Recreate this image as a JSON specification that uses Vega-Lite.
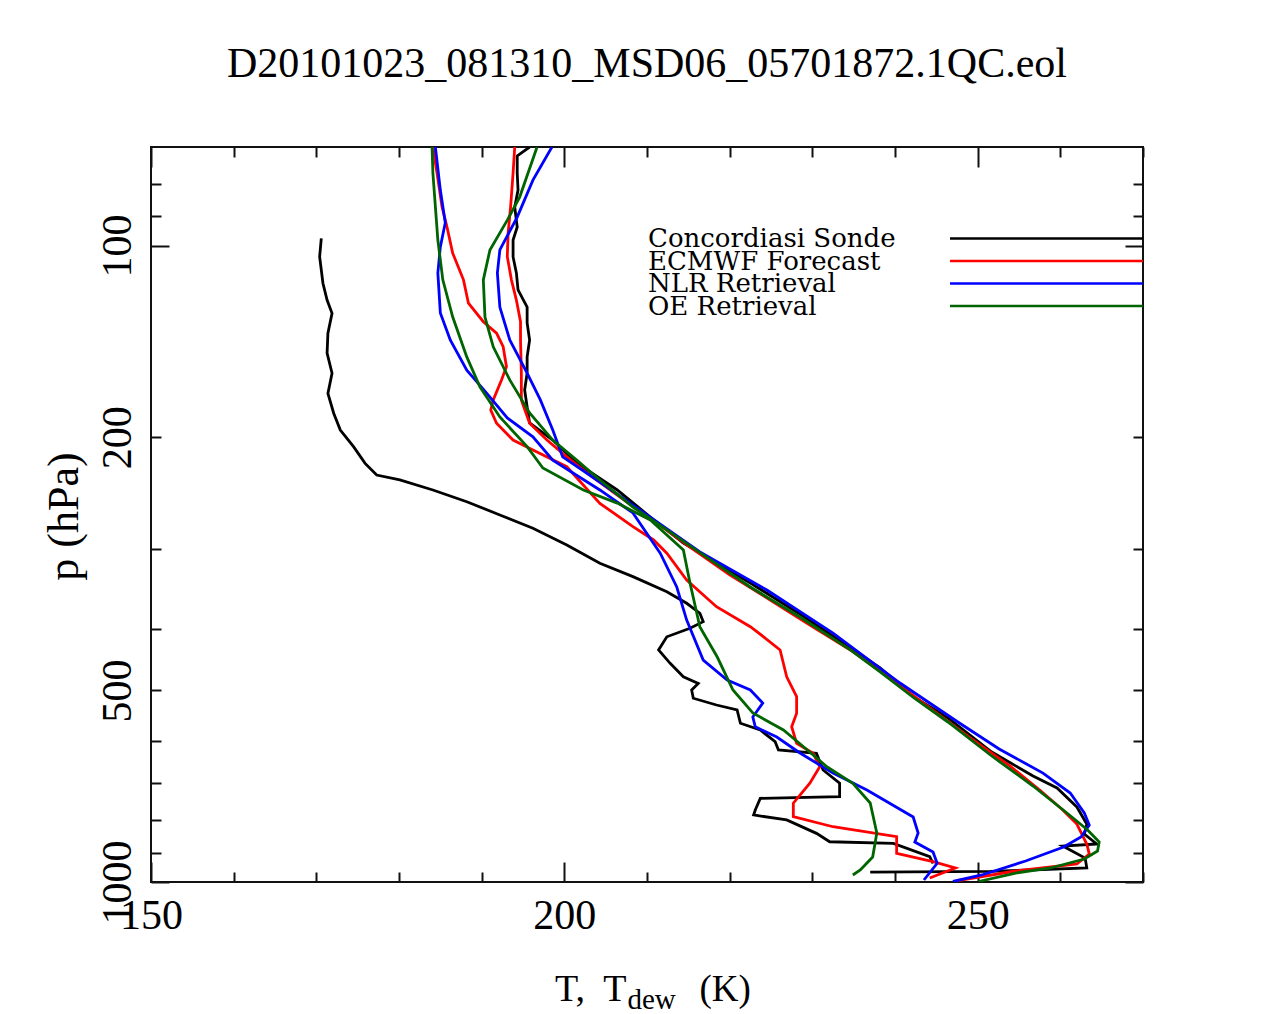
{
  "$schema": "https://vega.github.io/schema/vega-lite/v6.json",
  "width": 992,
  "height": 735,
  "autosize": {"type": "none"},
  "padding": {"left": 151, "top": 147, "right": 131, "bottom": 132},
  "background": "white",
  "title": {"text": "D20101023_081310_MSD06_05701872.1QC.eol", "font": "Liberation Serif", "fontSize": 42, "fontWeight": "normal", "color": "black", "anchor": "middle", "frame": "group", "baseline": "alphabetic", "offset": 27},
  "config": {
    "view": {"stroke": "#111111", "strokeWidth": 2},
    "axis": {"domain": false, "grid": false, "tickColor": "#111111", "tickWidth": 2, "labelFont": "Liberation Serif", "labelFontSize": 42, "labelColor": "black", "titleFont": "Liberation Serif", "titleFontWeight": "normal", "titleColor": "black"}
  },
  "datasets": {
    "profiles": [
      {"src":"Concordiasi Sonde","var":"T","temp":195.8,"p":70.0},
      {"src":"Concordiasi Sonde","var":"T","temp":194.3,"p":72.3},
      {"src":"Concordiasi Sonde","var":"T","temp":194.3,"p":76.9},
      {"src":"Concordiasi Sonde","var":"T","temp":194.4,"p":81.8},
      {"src":"Concordiasi Sonde","var":"T","temp":194.0,"p":87.0},
      {"src":"Concordiasi Sonde","var":"T","temp":194.3,"p":93.5},
      {"src":"Concordiasi Sonde","var":"T","temp":193.8,"p":98.0},
      {"src":"Concordiasi Sonde","var":"T","temp":193.8,"p":104.2},
      {"src":"Concordiasi Sonde","var":"T","temp":194.2,"p":110.4},
      {"src":"Concordiasi Sonde","var":"T","temp":194.4,"p":117.4},
      {"src":"Concordiasi Sonde","var":"T","temp":195.5,"p":124.9},
      {"src":"Concordiasi Sonde","var":"T","temp":195.5,"p":132.3},
      {"src":"Concordiasi Sonde","var":"T","temp":195.8,"p":140.7},
      {"src":"Concordiasi Sonde","var":"T","temp":195.5,"p":149.6},
      {"src":"Concordiasi Sonde","var":"T","temp":195.5,"p":158.6},
      {"src":"Concordiasi Sonde","var":"T","temp":195.2,"p":168.6},
      {"src":"Concordiasi Sonde","var":"T","temp":195.5,"p":179.3},
      {"src":"Concordiasi Sonde","var":"T","temp":195.8,"p":190.0},
      {"src":"Concordiasi Sonde","var":"T","temp":198.6,"p":202.1},
      {"src":"Concordiasi Sonde","var":"T","temp":201.5,"p":219.6},
      {"src":"Concordiasi Sonde","var":"T","temp":206.4,"p":242.1},
      {"src":"Concordiasi Sonde","var":"T","temp":210.4,"p":267.0},
      {"src":"Concordiasi Sonde","var":"T","temp":214.4,"p":293.3},
      {"src":"Concordiasi Sonde","var":"T","temp":218.5,"p":315.3},
      {"src":"Concordiasi Sonde","var":"T","temp":222.5,"p":338.9},
      {"src":"Concordiasi Sonde","var":"T","temp":228.5,"p":379.2},
      {"src":"Concordiasi Sonde","var":"T","temp":232.5,"p":410.7},
      {"src":"Concordiasi Sonde","var":"T","temp":238.2,"p":461.0},
      {"src":"Concordiasi Sonde","var":"T","temp":242.3,"p":512.0},
      {"src":"Concordiasi Sonde","var":"T","temp":246.4,"p":552.5},
      {"src":"Concordiasi Sonde","var":"T","temp":251.7,"p":624.8},
      {"src":"Concordiasi Sonde","var":"T","temp":256.7,"p":681.4},
      {"src":"Concordiasi Sonde","var":"T","temp":259.6,"p":711.7},
      {"src":"Concordiasi Sonde","var":"T","temp":262.0,"p":762.3},
      {"src":"Concordiasi Sonde","var":"T","temp":263.2,"p":810.9},
      {"src":"Concordiasi Sonde","var":"T","temp":262.9,"p":840.7},
      {"src":"Concordiasi Sonde","var":"T","temp":264.4,"p":871.6},
      {"src":"Concordiasi Sonde","var":"T","temp":260.3,"p":877.9},
      {"src":"Concordiasi Sonde","var":"T","temp":263.0,"p":917.0},
      {"src":"Concordiasi Sonde","var":"T","temp":263.2,"p":950.6},
      {"src":"Concordiasi Sonde","var":"T","temp":251.5,"p":962.5},
      {"src":"Concordiasi Sonde","var":"T","temp":237.0,"p":965.0},
      {"src":"Concordiasi Sonde","var":"Td","temp":170.6,"p":97.4},
      {"src":"Concordiasi Sonde","var":"Td","temp":170.4,"p":104.1},
      {"src":"Concordiasi Sonde","var":"Td","temp":170.8,"p":114.6},
      {"src":"Concordiasi Sonde","var":"Td","temp":171.3,"p":121.8},
      {"src":"Concordiasi Sonde","var":"Td","temp":171.9,"p":127.8},
      {"src":"Concordiasi Sonde","var":"Td","temp":171.4,"p":137.3},
      {"src":"Concordiasi Sonde","var":"Td","temp":171.3,"p":147.6},
      {"src":"Concordiasi Sonde","var":"Td","temp":171.9,"p":158.7},
      {"src":"Concordiasi Sonde","var":"Td","temp":171.4,"p":170.7},
      {"src":"Concordiasi Sonde","var":"Td","temp":172.1,"p":183.4},
      {"src":"Concordiasi Sonde","var":"Td","temp":172.9,"p":194.9},
      {"src":"Concordiasi Sonde","var":"Td","temp":174.5,"p":207.0},
      {"src":"Concordiasi Sonde","var":"Td","temp":175.9,"p":219.9},
      {"src":"Concordiasi Sonde","var":"Td","temp":177.3,"p":229.4},
      {"src":"Concordiasi Sonde","var":"Td","temp":180.1,"p":233.5},
      {"src":"Concordiasi Sonde","var":"Td","temp":184.1,"p":242.1},
      {"src":"Concordiasi Sonde","var":"Td","temp":188.2,"p":252.6},
      {"src":"Concordiasi Sonde","var":"Td","temp":192.2,"p":265.0},
      {"src":"Concordiasi Sonde","var":"Td","temp":196.2,"p":278.1},
      {"src":"Concordiasi Sonde","var":"Td","temp":200.3,"p":295.4},
      {"src":"Concordiasi Sonde","var":"Td","temp":204.3,"p":315.7},
      {"src":"Concordiasi Sonde","var":"Td","temp":208.3,"p":331.3},
      {"src":"Concordiasi Sonde","var":"Td","temp":212.4,"p":349.8},
      {"src":"Concordiasi Sonde","var":"Td","temp":214.8,"p":364.8},
      {"src":"Concordiasi Sonde","var":"Td","temp":216.4,"p":378.2},
      {"src":"Concordiasi Sonde","var":"Td","temp":216.8,"p":389.9},
      {"src":"Concordiasi Sonde","var":"Td","temp":215.2,"p":399.4},
      {"src":"Concordiasi Sonde","var":"Td","temp":212.4,"p":411.8},
      {"src":"Concordiasi Sonde","var":"Td","temp":211.4,"p":431.9},
      {"src":"Concordiasi Sonde","var":"Td","temp":212.8,"p":453.3},
      {"src":"Concordiasi Sonde","var":"Td","temp":214.4,"p":475.9},
      {"src":"Concordiasi Sonde","var":"Td","temp":216.2,"p":487.4},
      {"src":"Concordiasi Sonde","var":"Td","temp":215.4,"p":499.3},
      {"src":"Concordiasi Sonde","var":"Td","temp":215.6,"p":514.4},
      {"src":"Concordiasi Sonde","var":"Td","temp":218.4,"p":527.1},
      {"src":"Concordiasi Sonde","var":"Td","temp":220.9,"p":536.6},
      {"src":"Concordiasi Sonde","var":"Td","temp":221.3,"p":563.1},
      {"src":"Concordiasi Sonde","var":"Td","temp":223.7,"p":577.0},
      {"src":"Concordiasi Sonde","var":"Td","temp":225.5,"p":601.9},
      {"src":"Concordiasi Sonde","var":"Td","temp":225.9,"p":620.3},
      {"src":"Concordiasi Sonde","var":"Td","temp":230.5,"p":627.8},
      {"src":"Concordiasi Sonde","var":"Td","temp":231.3,"p":666.8},
      {"src":"Concordiasi Sonde","var":"Td","temp":233.3,"p":699.6},
      {"src":"Concordiasi Sonde","var":"Td","temp":233.3,"p":734.5},
      {"src":"Concordiasi Sonde","var":"Td","temp":223.7,"p":738.8},
      {"src":"Concordiasi Sonde","var":"Td","temp":223.1,"p":770.7},
      {"src":"Concordiasi Sonde","var":"Td","temp":222.9,"p":784.7},
      {"src":"Concordiasi Sonde","var":"Td","temp":226.9,"p":799.0},
      {"src":"Concordiasi Sonde","var":"Td","temp":230.5,"p":838.6},
      {"src":"Concordiasi Sonde","var":"Td","temp":232.1,"p":864.5},
      {"src":"Concordiasi Sonde","var":"Td","temp":239.8,"p":869.5},
      {"src":"Concordiasi Sonde","var":"Td","temp":244.2,"p":912.6},
      {"src":"Concordiasi Sonde","var":"Td","temp":244.6,"p":934.5},
      {"src":"ECMWF Forecast","var":"T","temp":194.0,"p":70.0},
      {"src":"ECMWF Forecast","var":"T","temp":193.8,"p":76.9},
      {"src":"ECMWF Forecast","var":"T","temp":193.5,"p":86.9},
      {"src":"ECMWF Forecast","var":"T","temp":193.2,"p":95.6},
      {"src":"ECMWF Forecast","var":"T","temp":193.1,"p":104.1},
      {"src":"ECMWF Forecast","var":"T","temp":193.6,"p":113.2},
      {"src":"ECMWF Forecast","var":"T","temp":194.2,"p":121.8},
      {"src":"ECMWF Forecast","var":"T","temp":194.7,"p":131.7},
      {"src":"ECMWF Forecast","var":"T","temp":194.7,"p":140.7},
      {"src":"ECMWF Forecast","var":"T","temp":194.8,"p":158.5},
      {"src":"ECMWF Forecast","var":"T","temp":194.8,"p":174.8},
      {"src":"ECMWF Forecast","var":"T","temp":195.8,"p":190.2},
      {"src":"ECMWF Forecast","var":"T","temp":197.9,"p":202.1},
      {"src":"ECMWF Forecast","var":"T","temp":200.3,"p":214.8},
      {"src":"ECMWF Forecast","var":"T","temp":203.1,"p":229.4},
      {"src":"ECMWF Forecast","var":"T","temp":206.7,"p":248.3},
      {"src":"ECMWF Forecast","var":"T","temp":211.0,"p":271.8},
      {"src":"ECMWF Forecast","var":"T","temp":215.2,"p":297.6},
      {"src":"ECMWF Forecast","var":"T","temp":220.0,"p":329.2},
      {"src":"ECMWF Forecast","var":"T","temp":224.9,"p":360.5},
      {"src":"ECMWF Forecast","var":"T","temp":229.7,"p":394.7},
      {"src":"ECMWF Forecast","var":"T","temp":234.6,"p":431.9},
      {"src":"ECMWF Forecast","var":"T","temp":239.4,"p":478.1},
      {"src":"ECMWF Forecast","var":"T","temp":244.2,"p":532.8},
      {"src":"ECMWF Forecast","var":"T","temp":249.1,"p":593.9},
      {"src":"ECMWF Forecast","var":"T","temp":253.9,"p":657.2},
      {"src":"ECMWF Forecast","var":"T","temp":257.5,"p":716.9},
      {"src":"ECMWF Forecast","var":"T","temp":260.3,"p":770.7},
      {"src":"ECMWF Forecast","var":"T","temp":262.0,"p":810.9},
      {"src":"ECMWF Forecast","var":"T","temp":263.2,"p":871.6},
      {"src":"ECMWF Forecast","var":"T","temp":263.5,"p":903.8},
      {"src":"ECMWF Forecast","var":"T","temp":262.0,"p":937.0},
      {"src":"ECMWF Forecast","var":"T","temp":254.6,"p":961.0},
      {"src":"ECMWF Forecast","var":"T","temp":247.5,"p":995.5},
      {"src":"ECMWF Forecast","var":"Td","temp":184.1,"p":70.0},
      {"src":"ECMWF Forecast","var":"Td","temp":184.6,"p":76.9},
      {"src":"ECMWF Forecast","var":"Td","temp":185.2,"p":86.9},
      {"src":"ECMWF Forecast","var":"Td","temp":185.8,"p":93.4},
      {"src":"ECMWF Forecast","var":"Td","temp":186.5,"p":102.8},
      {"src":"ECMWF Forecast","var":"Td","temp":187.8,"p":113.2},
      {"src":"ECMWF Forecast","var":"Td","temp":188.4,"p":123.2},
      {"src":"ECMWF Forecast","var":"Td","temp":190.2,"p":131.7},
      {"src":"ECMWF Forecast","var":"Td","temp":191.8,"p":137.3},
      {"src":"ECMWF Forecast","var":"Td","temp":192.6,"p":144.2},
      {"src":"ECMWF Forecast","var":"Td","temp":193.0,"p":155.0},
      {"src":"ECMWF Forecast","var":"Td","temp":192.4,"p":162.6},
      {"src":"ECMWF Forecast","var":"Td","temp":191.4,"p":174.8},
      {"src":"ECMWF Forecast","var":"Td","temp":191.1,"p":181.3},
      {"src":"ECMWF Forecast","var":"Td","temp":191.8,"p":190.2},
      {"src":"ECMWF Forecast","var":"Td","temp":193.8,"p":202.1},
      {"src":"ECMWF Forecast","var":"Td","temp":196.2,"p":209.5},
      {"src":"ECMWF Forecast","var":"Td","temp":200.3,"p":222.6},
      {"src":"ECMWF Forecast","var":"Td","temp":204.3,"p":254.1},
      {"src":"ECMWF Forecast","var":"Td","temp":208.3,"p":276.5},
      {"src":"ECMWF Forecast","var":"Td","temp":210.8,"p":290.1},
      {"src":"ECMWF Forecast","var":"Td","temp":212.4,"p":304.3},
      {"src":"ECMWF Forecast","var":"Td","temp":214.8,"p":335.3},
      {"src":"ECMWF Forecast","var":"Td","temp":218.4,"p":369.3},
      {"src":"ECMWF Forecast","var":"Td","temp":222.5,"p":397.1},
      {"src":"ECMWF Forecast","var":"Td","temp":224.1,"p":411.8},
      {"src":"ECMWF Forecast","var":"Td","temp":226.1,"p":431.9},
      {"src":"ECMWF Forecast","var":"Td","temp":226.9,"p":475.9},
      {"src":"ECMWF Forecast","var":"Td","temp":228.1,"p":511.4},
      {"src":"ECMWF Forecast","var":"Td","temp":228.1,"p":543.1},
      {"src":"ECMWF Forecast","var":"Td","temp":227.5,"p":570.2},
      {"src":"ECMWF Forecast","var":"Td","temp":228.1,"p":605.5},
      {"src":"ECMWF Forecast","var":"Td","temp":230.1,"p":627.8},
      {"src":"ECMWF Forecast","var":"Td","temp":230.9,"p":658.9},
      {"src":"ECMWF Forecast","var":"Td","temp":229.7,"p":699.6},
      {"src":"ECMWF Forecast","var":"Td","temp":227.7,"p":752.0},
      {"src":"ECMWF Forecast","var":"Td","temp":227.7,"p":789.6},
      {"src":"ECMWF Forecast","var":"Td","temp":232.5,"p":818.8},
      {"src":"ECMWF Forecast","var":"Td","temp":240.2,"p":848.8},
      {"src":"ECMWF Forecast","var":"Td","temp":240.2,"p":901.5},
      {"src":"ECMWF Forecast","var":"Td","temp":244.6,"p":929.1},
      {"src":"ECMWF Forecast","var":"Td","temp":247.3,"p":950.6},
      {"src":"ECMWF Forecast","var":"Td","temp":244.2,"p":985.6},
      {"src":"NLR Retrieval","var":"T","temp":198.5,"p":70.0},
      {"src":"NLR Retrieval","var":"T","temp":196.2,"p":78.9},
      {"src":"NLR Retrieval","var":"T","temp":194.3,"p":90.2},
      {"src":"NLR Retrieval","var":"T","temp":192.2,"p":101.6},
      {"src":"NLR Retrieval","var":"T","temp":191.9,"p":110.4},
      {"src":"NLR Retrieval","var":"T","temp":192.2,"p":124.9},
      {"src":"NLR Retrieval","var":"T","temp":193.4,"p":140.7},
      {"src":"NLR Retrieval","var":"T","temp":195.5,"p":158.6},
      {"src":"NLR Retrieval","var":"T","temp":197.1,"p":174.8},
      {"src":"NLR Retrieval","var":"T","temp":198.6,"p":194.9},
      {"src":"NLR Retrieval","var":"T","temp":199.8,"p":214.8},
      {"src":"NLR Retrieval","var":"T","temp":204.3,"p":235.2},
      {"src":"NLR Retrieval","var":"T","temp":208.3,"p":255.7},
      {"src":"NLR Retrieval","var":"T","temp":216.4,"p":303.0},
      {"src":"NLR Retrieval","var":"T","temp":224.5,"p":347.7},
      {"src":"NLR Retrieval","var":"T","temp":232.5,"p":406.3},
      {"src":"NLR Retrieval","var":"T","temp":240.6,"p":486.8},
      {"src":"NLR Retrieval","var":"T","temp":247.6,"p":560.5},
      {"src":"NLR Retrieval","var":"T","temp":252.6,"p":618.0},
      {"src":"NLR Retrieval","var":"T","temp":257.9,"p":674.3},
      {"src":"NLR Retrieval","var":"T","temp":261.2,"p":724.7},
      {"src":"NLR Retrieval","var":"T","temp":262.9,"p":779.1},
      {"src":"NLR Retrieval","var":"T","temp":263.5,"p":813.7},
      {"src":"NLR Retrieval","var":"T","temp":262.5,"p":849.7},
      {"src":"NLR Retrieval","var":"T","temp":260.4,"p":881.0},
      {"src":"NLR Retrieval","var":"T","temp":255.8,"p":926.8},
      {"src":"NLR Retrieval","var":"T","temp":250.5,"p":974.9},
      {"src":"NLR Retrieval","var":"T","temp":247.0,"p":998.0},
      {"src":"NLR Retrieval","var":"Td","temp":184.4,"p":70.0},
      {"src":"NLR Retrieval","var":"Td","temp":185.0,"p":81.8},
      {"src":"NLR Retrieval","var":"Td","temp":185.6,"p":92.1},
      {"src":"NLR Retrieval","var":"Td","temp":185.0,"p":100.5},
      {"src":"NLR Retrieval","var":"Td","temp":184.7,"p":110.4},
      {"src":"NLR Retrieval","var":"Td","temp":185.0,"p":127.6},
      {"src":"NLR Retrieval","var":"Td","temp":186.2,"p":140.7},
      {"src":"NLR Retrieval","var":"Td","temp":188.2,"p":156.9},
      {"src":"NLR Retrieval","var":"Td","temp":190.6,"p":170.5},
      {"src":"NLR Retrieval","var":"Td","temp":193.1,"p":186.6},
      {"src":"NLR Retrieval","var":"Td","temp":196.2,"p":199.8},
      {"src":"NLR Retrieval","var":"Td","temp":198.6,"p":217.3},
      {"src":"NLR Retrieval","var":"Td","temp":204.3,"p":242.1},
      {"src":"NLR Retrieval","var":"Td","temp":208.3,"p":263.1},
      {"src":"NLR Retrieval","var":"Td","temp":211.6,"p":304.3},
      {"src":"NLR Retrieval","var":"Td","temp":213.6,"p":343.9},
      {"src":"NLR Retrieval","var":"Td","temp":214.8,"p":387.6},
      {"src":"NLR Retrieval","var":"Td","temp":216.8,"p":448.0},
      {"src":"NLR Retrieval","var":"Td","temp":219.7,"p":481.6},
      {"src":"NLR Retrieval","var":"Td","temp":222.5,"p":499.3},
      {"src":"NLR Retrieval","var":"Td","temp":224.0,"p":523.3},
      {"src":"NLR Retrieval","var":"Td","temp":222.8,"p":550.5},
      {"src":"NLR Retrieval","var":"Td","temp":223.1,"p":570.4},
      {"src":"NLR Retrieval","var":"Td","temp":225.7,"p":591.8},
      {"src":"NLR Retrieval","var":"Td","temp":228.5,"p":627.0},
      {"src":"NLR Retrieval","var":"Td","temp":232.5,"p":674.3},
      {"src":"NLR Retrieval","var":"Td","temp":236.6,"p":716.9},
      {"src":"NLR Retrieval","var":"Td","temp":242.2,"p":790.5},
      {"src":"NLR Retrieval","var":"Td","temp":242.8,"p":837.6},
      {"src":"NLR Retrieval","var":"Td","temp":242.4,"p":865.4},
      {"src":"NLR Retrieval","var":"Td","temp":244.6,"p":897.3},
      {"src":"NLR Retrieval","var":"Td","temp":245.1,"p":934.5},
      {"src":"NLR Retrieval","var":"Td","temp":243.5,"p":992.8},
      {"src":"OE Retrieval","var":"T","temp":196.7,"p":70.0},
      {"src":"OE Retrieval","var":"T","temp":194.6,"p":83.9},
      {"src":"OE Retrieval","var":"T","temp":193.1,"p":91.2},
      {"src":"OE Retrieval","var":"T","temp":191.0,"p":101.6},
      {"src":"OE Retrieval","var":"T","temp":190.2,"p":113.2},
      {"src":"OE Retrieval","var":"T","temp":190.4,"p":129.5},
      {"src":"OE Retrieval","var":"T","temp":191.4,"p":144.2},
      {"src":"OE Retrieval","var":"T","temp":193.4,"p":162.6},
      {"src":"OE Retrieval","var":"T","temp":195.8,"p":183.2},
      {"src":"OE Retrieval","var":"T","temp":198.6,"p":202.1},
      {"src":"OE Retrieval","var":"T","temp":201.5,"p":217.3},
      {"src":"OE Retrieval","var":"T","temp":204.3,"p":233.5},
      {"src":"OE Retrieval","var":"T","temp":208.3,"p":257.5},
      {"src":"OE Retrieval","var":"T","temp":212.4,"p":279.8},
      {"src":"OE Retrieval","var":"T","temp":216.4,"p":303.8},
      {"src":"OE Retrieval","var":"T","temp":222.5,"p":343.9},
      {"src":"OE Retrieval","var":"T","temp":228.5,"p":383.4},
      {"src":"OE Retrieval","var":"T","temp":234.6,"p":431.9},
      {"src":"OE Retrieval","var":"T","temp":238.2,"p":467.7},
      {"src":"OE Retrieval","var":"T","temp":242.3,"p":513.9},
      {"src":"OE Retrieval","var":"T","temp":246.4,"p":560.5},
      {"src":"OE Retrieval","var":"T","temp":251.7,"p":633.9},
      {"src":"OE Retrieval","var":"T","temp":256.7,"p":706.6},
      {"src":"OE Retrieval","var":"T","temp":260.8,"p":779.1},
      {"src":"OE Retrieval","var":"T","temp":263.3,"p":828.6},
      {"src":"OE Retrieval","var":"T","temp":264.7,"p":865.4},
      {"src":"OE Retrieval","var":"T","temp":264.5,"p":894.0},
      {"src":"OE Retrieval","var":"T","temp":262.9,"p":920.1},
      {"src":"OE Retrieval","var":"T","temp":258.8,"p":950.6},
      {"src":"OE Retrieval","var":"T","temp":254.6,"p":968.0},
      {"src":"OE Retrieval","var":"T","temp":250.1,"p":998.2},
      {"src":"OE Retrieval","var":"Td","temp":184.0,"p":70.0},
      {"src":"OE Retrieval","var":"Td","temp":184.1,"p":76.9},
      {"src":"OE Retrieval","var":"Td","temp":184.7,"p":98.0},
      {"src":"OE Retrieval","var":"Td","temp":185.3,"p":113.2},
      {"src":"OE Retrieval","var":"Td","temp":186.5,"p":129.5},
      {"src":"OE Retrieval","var":"Td","temp":188.2,"p":149.6},
      {"src":"OE Retrieval","var":"Td","temp":189.8,"p":166.8},
      {"src":"OE Retrieval","var":"Td","temp":192.2,"p":185.9},
      {"src":"OE Retrieval","var":"Td","temp":195.5,"p":207.0},
      {"src":"OE Retrieval","var":"Td","temp":197.4,"p":223.6},
      {"src":"OE Retrieval","var":"Td","temp":202.3,"p":242.1},
      {"src":"OE Retrieval","var":"Td","temp":206.4,"p":253.9},
      {"src":"OE Retrieval","var":"Td","temp":210.4,"p":269.9},
      {"src":"OE Retrieval","var":"Td","temp":214.4,"p":300.8},
      {"src":"OE Retrieval","var":"Td","temp":215.2,"p":338.9},
      {"src":"OE Retrieval","var":"Td","temp":216.4,"p":397.5},
      {"src":"OE Retrieval","var":"Td","temp":218.5,"p":443.1},
      {"src":"OE Retrieval","var":"Td","temp":220.4,"p":499.3},
      {"src":"OE Retrieval","var":"Td","temp":222.8,"p":542.5},
      {"src":"OE Retrieval","var":"Td","temp":226.5,"p":577.0},
      {"src":"OE Retrieval","var":"Td","temp":229.4,"p":620.3},
      {"src":"OE Retrieval","var":"Td","temp":231.8,"p":659.7},
      {"src":"OE Retrieval","var":"Td","temp":234.9,"p":699.6},
      {"src":"OE Retrieval","var":"Td","temp":237.0,"p":751.3},
      {"src":"OE Retrieval","var":"Td","temp":237.8,"p":837.6},
      {"src":"OE Retrieval","var":"Td","temp":237.3,"p":913.6},
      {"src":"OE Retrieval","var":"Td","temp":235.8,"p":957.4},
      {"src":"OE Retrieval","var":"Td","temp":234.9,"p":975.0}
    ]
  },
  "data": {"name": "profiles"},
  "resolve": {"axis": {"x": "independent", "y": "independent"}},
  "layer": [
    {
      "mark": {"type": "line", "strokeWidth": 2.8, "clip": true},
      "encoding": {
        "x": {"field": "temp", "type": "quantitative",
          "scale": {"domain": [150, 270], "nice": false, "zero": false},
          "axis": {"orient": "bottom", "values": [150,160,170,180,190,200,210,220,230,240,250,260,270],
            "labelExpr": "datum.value % 50 == 0 ? datum.label : ''", "labelFlush": false, "labelBaseline": "top",
            "tickSize": {"condition": {"test": "datum.value % 50 == 0", "value": -20}, "value": -10},
            "labelPadding": 33,
            "title": "T,\u00a0 T", "titleFontSize": 38, "titleAlign": "right", "titleBaseline": "alphabetic", "titleX": 475, "titleY": 118}},
        "y": {"field": "p", "type": "quantitative",
          "scale": {"type": "log", "domain": [70, 1000], "nice": false, "reverse": true},
          "axis": {"orient": "left", "values": [80,90,100,200,300,400,500,600,700,800,900,1000], "format": "d",
            "labelExpr": "(datum.value == 100 || datum.value == 200 || datum.value == 500 || datum.value == 1000) ? datum.label : ''",
            "labelAngle": -90, "labelAlign": "center", "labelBaseline": "alphabetic",
            "tickSize": {"condition": {"test": "datum.value == 100 || datum.value == 1000", "value": -18}, "value": -10},
            "labelPadding": {"condition": {"test": "datum.value == 100 || datum.value == 1000", "value": 39}, "value": 31},
            "title": "p (hPa)", "titleFontSize": 44, "titleAngle": -90, "titleAlign": "center", "titleBaseline": "alphabetic", "titleX": -74, "titleY": 369}},
        "color": {"field": "src", "type": "nominal",
          "scale": {"domain": ["Concordiasi Sonde", "ECMWF Forecast", "NLR Retrieval", "OE Retrieval"], "range": ["#000000", "#ff0000", "#0000ff", "#006400"]},
          "legend": {"orient": "none", "legendX": 497, "legendY": 100, "padding": 0,
            "title": ["Concordiasi Sonde", "ECMWF Forecast", "NLR Retrieval", "OE Retrieval"],
            "titleOrient": "left", "titleAnchor": "start", "titleAlign": "left", "titleBaseline": "alphabetic",
            "titleFont": "DejaVu Serif", "titleFontSize": 26, "titleFontWeight": "normal", "titleColor": "black",
            "titleLineHeight": 22.5, "titleLimit": 0, "titlePadding": 51.5,
            "symbolType": "M 0 -11 L 193 -11", "symbolSize": 4, "symbolStrokeWidth": 2.5,
            "labelExpr": "''", "labelFontSize": 2, "labelOffset": 0,
            "rowPadding": 4.5}},
        "detail": {"field": "var", "type": "nominal"},
        "order": {"field": "p", "type": "quantitative"}
      }
    },
    {
      "mark": {"type": "line", "opacity": 0},
      "encoding": {
        "x": {"field": "temp", "type": "quantitative",
          "axis": {"orient": "top", "values": [150,160,170,180,190,200,210,220,230,240,250,260,270], "labels": false,
            "tickSize": {"condition": {"test": "datum.value % 50 == 0", "value": -20}, "value": -10},
            "title": "dew", "titleFontSize": 29, "titleAlign": "left", "titleBaseline": "alphabetic", "titleX": 476, "titleY": 861}},
        "y": {"field": "p", "type": "quantitative",
          "axis": {"orient": "right", "values": [80,90,100,200,300,400,500,600,700,800,900,1000], "labels": false,
            "tickSize": {"condition": {"test": "datum.value == 100 || datum.value == 1000", "value": -18}, "value": -10},
            "title": "(K)", "titleFontSize": 37, "titleAngle": 0, "titleAlign": "left", "titleBaseline": "alphabetic", "titleX": -444, "titleY": 853}},
        "detail": {"field": "src", "type": "nominal"},
        "order": {"field": "p", "type": "quantitative"}
      }
    }
  ]
}
